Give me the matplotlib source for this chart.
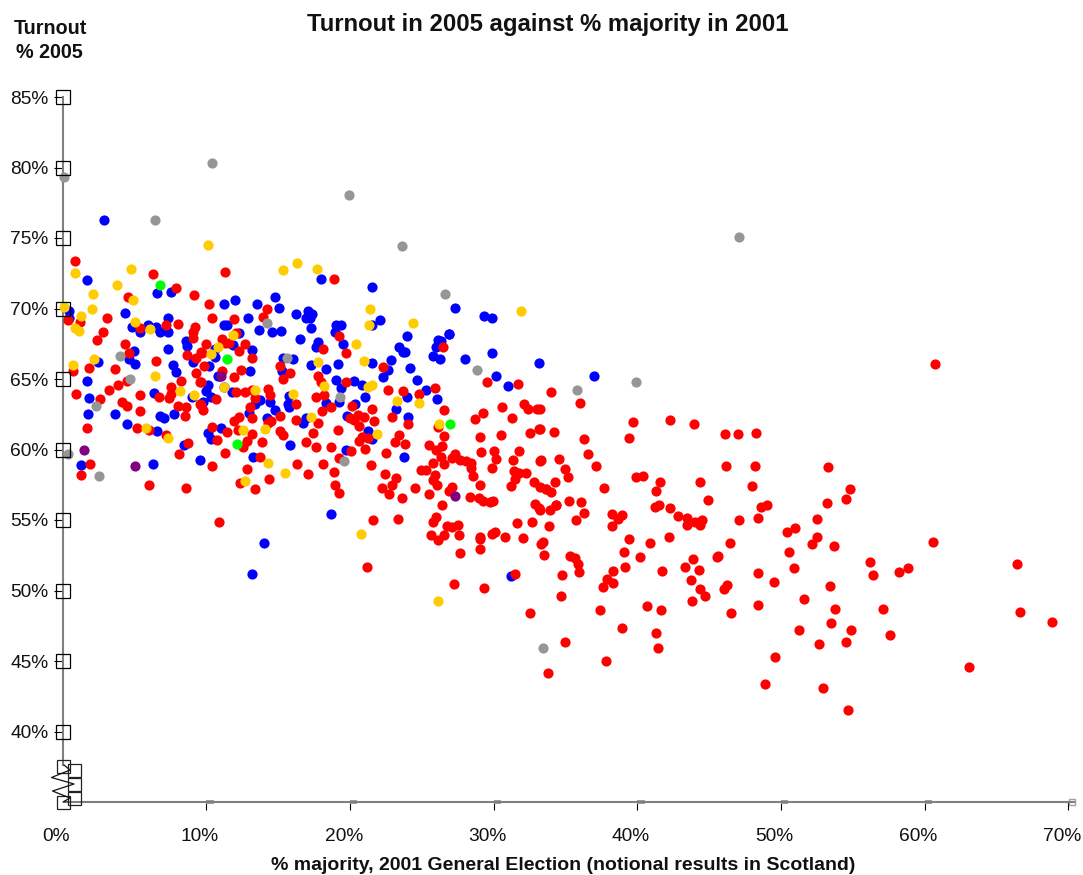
import matplotlib
matplotlib.use("Agg")
import matplotlib.pyplot as plt
from matplotlib.lines import Line2D
from matplotlib.transforms import ScaledTranslation

plt.rcParams['font.family'] = ['Liberation Sans', 'DejaVu Sans']

# (% majority 2001, % turnout 2005)
labour = [
    (0.85,73.35),(6.25,72.45),(11.3,72.6),(18.85,72.1),(7.9,71.45),(4.55,70.85),(9.1,70.95),(10.2,70.3),
    (10.4,69.3),(3.1,69.3),(1.2,69.05),(0.35,69.2),(2.8,68.35),(2.35,67.8),(7.15,68.85),(8.0,68.9),
    (5.35,68.65),(9.2,68.7),(9.05,68.35),(9.05,67.9),(9.95,67.5),(4.3,67.45),(4.6,66.85),(8.65,66.7),
    (9.65,66.9),(9.3,66.5),(6.5,66.3),(1.85,65.75),(3.65,65.7),(0.7,65.55),(9.85,65.95),(9.25,65.4),
    (8.2,64.85),(9.55,64.8),(7.55,64.45),(3.85,64.55),(4.5,64.85),(3.2,64.25),(0.95,63.95),(5.35,63.9),
    (6.7,63.7),(7.4,63.65),(7.55,63.95),(2.6,63.6),(4.15,63.4),(4.5,63.05),(8.05,63.1),(8.55,63.0),
    (9.55,63.2),(9.75,62.8),(10.7,63.6),(5.4,62.75),(8.5,62.4),(1.7,61.55),(5.2,61.5),(6.0,61.4),
    (7.15,61.0),(10.4,61.6),(10.75,60.7),(8.7,60.45),(8.1,59.7),(1.9,59.0),(1.3,58.2),(10.4,58.8),
    (6.0,57.5),(8.55,57.3),(14.2,70.0),(11.95,69.25),(13.95,69.4),(12.05,68.25),(11.1,67.85),(11.3,67.55),
    (11.6,67.55),(12.7,67.5),(12.25,67.0),(9.7,66.85),(13.2,66.5),(11.1,65.6),(12.4,65.65),(11.95,65.15),
    (9.6,64.8),(15.1,65.95),(15.8,65.4),(15.35,65.0),(19.25,68.05),(18.1,67.1),(19.75,66.85),(17.8,65.2),
    (17.95,64.8),(19.75,64.8),(12.05,64.1),(12.7,64.1),(13.15,64.2),(13.35,63.65),(14.3,64.3),(14.4,63.9),
    (17.65,63.75),(18.15,63.9),(16.2,63.2),(18.7,63.0),(20.15,63.1),(21.55,62.9),(13.05,63.0),(9.65,63.15),
    (15.15,62.35),(18.05,62.7),(17.75,61.9),(16.25,62.1),(13.15,62.2),(12.3,62.3),(11.9,62.05),(14.5,62.0),
    (14.3,61.85),(20.0,62.2),(20.3,62.1),(20.55,62.45),(21.0,62.3),(21.65,62.05),(20.65,61.7),(19.15,61.35),
    (17.4,61.15),(15.1,61.3),(15.35,61.0),(11.4,61.25),(12.2,61.4),(13.2,61.1),(12.8,60.6),(12.55,60.2),
    (13.9,60.5),(16.9,60.55),(17.6,60.2),(18.7,60.2),(20.8,60.9),(20.65,60.6),(21.25,60.85),(21.05,60.05),
    (20.05,59.9),(19.2,59.4),(11.3,59.75),(13.7,59.45),(12.8,58.6),(16.3,59.0),(18.1,59.0),(21.45,58.9),
    (18.9,58.4),(17.05,58.25),(14.35,57.9),(12.35,57.65),(13.4,57.2),(18.95,57.5),(19.2,56.9),(10.85,54.85),
    (21.2,51.7),(26.46,67.24),(22.29,65.82),(29.53,64.8),(31.68,64.66),(22.64,64.24),(23.66,64.17),(24.82,63.96),
    (25.91,64.38),(26.51,62.82),(30.55,63.01),(29.25,62.56),(28.69,62.18),(31.24,62.23),(32.1,63.2),(32.36,62.85),
    (33.03,62.89),(22.94,62.28),(24.05,61.78),(26.12,61.59),(32.52,61.17),(33.17,61.47),(30.48,61.05),(29.02,60.88),
    (26.51,60.96),(23.4,61.0),(23.1,60.5),(23.82,60.39),(25.51,60.3),(26.42,60.25),(26.0,59.99),(22.52,59.73),
    (26.3,59.5),(27.3,59.7),(27.09,59.37),(27.62,59.28),(28.09,59.2),(28.44,59.07),(29.09,59.82),(30.04,59.87),
    (30.13,59.3),(31.75,59.87),(31.36,59.25),(33.24,59.21),(25.74,59.07),(26.51,58.97),(28.41,58.66),(29.85,58.69),
    (22.4,58.29),(24.96,58.57),(25.3,58.55),(25.93,58.22),(25.77,57.86),(28.55,58.1),(31.41,58.48),(31.73,58.31),
    (32.26,58.31),(31.5,57.9),(23.17,57.98),(22.91,57.46),(22.22,57.25),(22.68,56.82),(23.61,56.54),(24.49,57.25),
    (25.47,56.85),(26.02,57.46),(27.11,57.32),(26.9,57.06),(29.04,57.46),(31.22,57.41),(32.8,57.67),(33.19,57.32),
    (33.66,57.2),(28.34,56.61),(28.97,56.56),(29.25,56.35),(29.71,56.28),(29.94,56.37),(26.37,56.07),(32.84,56.14),
    (33.15,55.85),(21.59,54.98),(23.36,55.07),(25.98,55.21),(25.74,54.86),(26.74,54.55),(27.11,54.5),(27.48,54.67),
    (25.65,53.91),(26.14,53.6),(26.56,53.91),(27.6,53.94),(29.02,53.79),(29.06,53.68),(29.87,54.03),(30.08,54.15),
    (30.8,53.82),(31.61,54.79),(32.66,54.86),(32.03,53.72),(33.42,53.44),(33.28,53.32),(33.84,54.55),(33.91,55.73),
    (34.31,56.09),(27.67,52.64),(29.04,52.94),(33.47,52.5),(35.28,52.47),(31.48,51.15),(34.75,51.08),(27.25,50.46),
    (29.32,50.16),(34.65,49.59),(32.5,48.43),(33.98,64.11),(36.04,63.31),(33.19,62.89),(39.69,61.94),(42.24,62.08),
    (43.93,61.8),(46.11,61.09),(47.04,61.09),(33.21,61.45),(34.19,61.23),(36.25,60.78),(39.43,60.81),(36.58,59.67),
    (33.31,59.22),(34.56,59.3),(34.95,58.61),(35.16,58.04),(37.09,58.82),(46.14,58.8),(39.87,58.04),(40.41,58.14),
    (41.59,57.71),(44.37,57.71),(34.26,57.69),(33.65,57.22),(34.0,57.0),(37.67,57.29),(41.29,57.05),(35.23,56.34),
    (36.07,56.27),(44.95,56.42),(34.35,56.08),(33.19,55.73),(36.3,55.52),(35.7,55.02),(41.24,55.9),(41.5,56.06),
    (42.24,55.87),(42.84,55.3),(43.47,55.12),(43.47,54.64),(44.0,54.86),(44.51,55.0),(44.33,54.67),(38.22,55.4),
    (38.92,55.33),(38.64,55.09),(38.22,54.55),(39.41,53.67),(42.19,53.77),(40.87,53.39),(46.48,53.37),(39.08,52.73),
    (40.2,52.35),(35.63,52.3),(35.86,51.88),(35.93,51.29),(38.27,51.38),(39.13,51.69),(41.68,51.38),(37.88,50.81),
    (38.29,50.53),(37.64,50.22),(43.86,52.23),(43.33,51.64),(44.28,51.43),(43.72,50.77),(44.37,50.13),(44.72,49.63),
    (43.77,49.26),(45.6,52.47),(45.56,52.37),(46.27,50.39),(46.04,50.13),(46.55,48.43),(37.39,48.59),(40.68,48.9),
    (41.66,48.64),(38.94,47.32),(41.31,46.96),(41.47,45.95),(34.95,46.37),(37.83,45.0),(33.75,44.13),(48.25,61.16),
    (48.16,58.85),(53.29,58.78),(47.95,57.41),(54.82,57.2),(54.49,56.51),(53.19,56.23),(48.62,55.92),(49.02,56.04),
    (48.39,55.16),(47.05,54.98),(50.99,54.46),(50.41,54.13),(52.54,55.05),(52.48,53.82),(52.13,53.27),(53.66,53.18),
    (50.53,52.76),(50.87,51.57),(48.37,51.27),(49.53,50.58),(53.38,50.3),(56.21,52.02),(56.37,51.08),(58.21,51.34),
    (58.86,51.57),(51.59,49.38),(48.39,48.95),(53.77,48.69),(57.12,48.72),(53.5,47.72),(51.22,47.18),(54.89,47.2),
    (54.49,46.35),(52.61,46.24),(57.56,46.87),(49.6,45.27),(48.86,43.35),(52.94,43.09),(54.63,41.49),(60.75,66.08),
    (60.6,53.45),(66.4,51.9),(66.65,48.5),(68.9,47.8),(63.1,44.55),
]

conservative = [
    (2.85,76.25),(1.7,72.0),(18.0,72.1),(6.55,71.1),(7.55,71.15),(4.3,69.7),(0.45,69.8),(0.4,69.3),
    (4.8,68.7),(5.4,68.3),(5.95,68.85),(6.5,68.7),(6.75,68.3),(7.3,68.35),(7.3,69.3),(8.55,67.7),
    (8.65,67.35),(7.35,67.15),(4.95,67.0),(4.6,66.4),(5.05,66.05),(2.45,66.2),(1.67,64.85),(1.85,63.65),
    (1.75,62.5),(3.65,62.5),(4.45,61.8),(6.35,64.0),(7.7,66.0),(7.9,65.5),(9.0,63.7),(6.8,62.35),
    (7.05,62.2),(7.75,62.5),(6.55,61.3),(8.45,60.35),(6.25,59.0),(1.3,58.9),(9.55,59.25),(9.05,66.2),
    (10.2,65.9),(10.1,64.55),(9.95,64.15),(10.35,63.75),(9.75,63.4),(10.1,61.2),(10.35,60.75),(10.8,65.2),
    (10.6,67.1),(11.2,70.3),(12.0,70.6),(13.5,70.3),(14.8,70.8),(15.05,70.05),(16.2,69.6),(17.1,69.8),
    (17.35,69.6),(17.2,69.3),(16.95,69.3),(21.55,71.5),(12.9,69.35),(11.2,68.85),(11.4,68.85),(13.65,68.5),
    (14.55,68.3),(15.2,68.4),(17.25,68.6),(16.5,67.85),(12.3,68.25),(19.0,68.85),(19.4,68.85),(18.95,68.3),
    (21.5,68.85),(19.5,67.5),(17.75,67.6),(17.65,67.25),(11.85,67.4),(13.2,67.05),(10.6,66.55),(15.35,66.5),
    (16.05,66.4),(15.25,65.6),(13.0,65.55),(10.95,65.2),(17.3,66.0),(18.3,65.7),(19.15,66.05),(21.55,66.15),
    (19.05,64.95),(20.25,64.85),(20.85,64.55),(19.35,64.35),(21.05,63.7),(19.2,63.35),(18.35,63.3),(11.25,64.45),
    (11.8,64.1),(13.7,63.5),(13.35,63.2),(14.45,63.4),(15.75,63.8),(15.7,63.2),(15.75,63.0),(14.8,62.8),
    (12.95,62.6),(14.2,62.2),(16.75,61.9),(16.95,62.2),(19.8,62.4),(20.35,63.2),(11.0,61.5),(21.25,61.3),
    (21.5,60.75),(19.7,60.0),(15.85,60.3),(13.25,59.45),(27.3,70.05),(29.35,69.45),(29.85,69.35),(22.1,69.2),
    (23.96,68.04),(26.88,68.18),(23.4,67.24),(23.68,66.95),(23.84,66.91),(26.12,67.78),(25.98,67.24),(26.32,67.73),
    (25.77,66.65),(26.28,66.41),(28.02,66.39),(29.87,66.81),(33.12,66.15),(22.87,66.36),(22.64,65.61),(22.31,65.11),
    (24.19,65.75),(24.68,64.9),(25.3,64.2),(23.96,63.74),(26.02,63.55),(30.13,65.23),(30.96,64.47),(23.2,62.89),
    (24.0,62.28),(23.73,59.47),(31.22,51.05),(37.0,65.2),(18.7,55.4),(14.0,53.4),(13.2,51.2),(26.9,68.2),
]

libdem = [
    (0.85,72.5),(3.75,71.7),(4.75,72.8),(10.1,74.5),(15.3,72.7),(16.3,73.2),(17.7,72.8),(2.1,71.0),
    (2.0,70.0),(0.05,70.1),(1.25,69.5),(0.85,68.6),(1.1,68.4),(4.9,70.6),(5.05,69.05),(6.05,68.55),
    (2.15,66.4),(0.7,66.0),(6.4,65.2),(8.15,64.15),(9.1,63.9),(5.8,61.5),(7.3,60.8),(10.35,66.8),
    (10.8,67.3),(11.85,68.15),(11.2,64.4),(13.4,64.2),(16.0,63.95),(17.75,66.2),(18.2,64.5),(17.3,62.3),
    (21.4,69.95),(21.35,68.85),(20.4,67.5),(20.95,66.25),(21.5,64.55),(21.25,64.45),(12.55,61.4),(14.05,61.45),
    (14.3,59.05),(15.5,58.35),(12.65,57.75),(21.87,61.07),(23.26,63.46),(24.79,63.29),(26.16,61.78),(24.35,69.0),
    (31.9,69.85),(20.75,54.0),(26.09,49.28),
]

other = [
    (0.1,79.3),(10.4,80.3),(6.4,76.3),(19.9,78.05),(23.6,74.4),(47.1,75.1),(26.6,71.0),(39.9,64.8),
    (35.8,64.2),(28.85,65.66),(14.2,69.0),(15.6,66.5),(19.3,63.7),(19.6,59.15),(4.0,66.6),(4.7,65.0),
    (2.3,63.1),(0.35,59.7),(2.55,58.1),(33.4,45.95),
]

green = [(6.8,71.7),(11.4,66.4),(12.1,60.4),(26.93,61.78)]
purple = [(1.5,60.0),(5.05,58.8),(11.0,65.2),(27.32,56.7)]

xticks = list(range(0, 80, 10))
yticks = list(range(40, 90, 5))

fig = plt.figure(figsize=(10.83, 8.75), dpi=100)
W, H = 1083.0, 875.0
ax = fig.add_axes([62.8/W, 1-802/H, (1068.3-62.8)/W, (802-97)/H])
ax.set_xlim(0, 70)
ax.set_ylim(35, 85)

groups = [(conservative, '#0000ff'), (labour, '#ff0000'), (libdem, '#ffcc00'),
          (other, '#969696'), (green, '#00ff00'), (purple, '#800080')]
for i, (pts, col) in enumerate(groups):
    ax.scatter([p[0] for p in pts], [p[1] for p in pts], s=54, c=col, linewidths=0,
               zorder=3+i*0.1, clip_on=False)

for s in ['top', 'right']:
    ax.spines[s].set_visible(False)
ax.spines['left'].set_color('#808080')
ax.spines['bottom'].set_color('#808080')
ax.spines['left'].set_linewidth(1.5)
ax.spines['bottom'].set_linewidth(1.5)
ax.spines['left'].set_bounds(37.6, 85)
ax.spines['bottom'].set_bounds(0.4, 70.4)

ax.set_xticks(xticks)
ax.set_xticklabels(['%d%%' % t for t in xticks])
ax.set_yticks(yticks)
ax.set_yticklabels(['%d%%' % t for t in yticks])
ax.tick_params(axis='x', length=5.8, width=0.8, color='black', labelsize=13.8, pad=13, labelcolor='#111111')
ax.tick_params(axis='y', length=6.5, width=0.8, color='black', labelsize=13.8, pad=4, labelcolor='#111111')
ax.xaxis.get_major_ticks()[0].tick1line.set_visible(False)
shift = ScaledTranslation(-6.4/100, 0, fig.dpi_scale_trans)
for lab in ax.get_xticklabels():
    lab.set_transform(lab.get_transform() + shift)

# selection handles left on the axes
ax.plot([0]*len(yticks), yticks, ls='', marker='s', ms=9.4, mfc='none', mec='black', mew=0.9,
        clip_on=False, zorder=6)
for t in xticks[1:-1]:
    ax.plot([t, t+0.5], [35, 35], color='#999999', lw=2.8, solid_capstyle='butt', clip_on=False, zorder=2.5)
ax.plot([70.25], [35], ls='', marker='s', ms=4.4, mfc='white', mec='#a0a0a0', mew=1, clip_on=False, zorder=2.5)


def px(x, y):
    return x/W, 1-y/H


# axis break at the bottom of the y axis
for cx, cy in [(63.3, 766.7), (63.3, 802), (74.7, 770), (74.7, 784), (74.7, 798.7)]:
    fig.add_artist(plt.Rectangle(px(cx-6.5, cy+6.5), 13/W, 13/H, fill=False, ec='#222222', lw=0.9,
                                 transform=fig.transFigure, zorder=7))
zz = [(64, 765), (70, 770), (51.5, 777.5), (74, 784), (52.5, 791), (70, 798), (63, 802), (68, 802)]
fig.add_artist(Line2D([px(*p)[0] for p in zz], [px(*p)[1] for p in zz], color='#111111', lw=0.9,
                      transform=fig.transFigure, zorder=8))

fig.text(548/W, 1-24/H, 'Turnout in 2005 against % majority in 2001', ha='center', va='center',
         fontsize=17.2, fontweight='bold', color='#111111')
fig.text(50/W, 1-28/H, 'Turnout', ha='center', va='center', fontsize=14.2, fontweight='bold', color='#111111')
fig.text(49.5/W, 1-53/H, '% 2005', ha='center', va='center', fontsize=14.2, fontweight='bold', color='#111111')
fig.text(563/W, 1-865/H, '% majority, 2001 General Election (notional results in Scotland)', ha='center', va='center',
         fontsize=14, fontweight='bold', color='#111111')

fig.savefig('out.png', dpi=100)
